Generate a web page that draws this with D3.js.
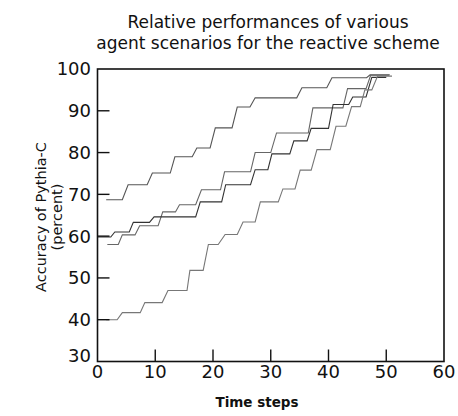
<!DOCTYPE html>
<html><head><meta charset="utf-8">
<script src="https://cdn.jsdelivr.net/npm/d3@7"></script>
<style>html,body{margin:0;padding:0;background:#fff;} svg{display:block;}</style>
</head><body>
<svg id="chart" width="458" height="416"></svg>
<script>
// ---- data ----
const titleLines = ["Relative performances of various", "agent scenarios for the reactive scheme"];
const yLabelLines = ["Accuracy of Pythia-C", "(percent)"];
const xLabel = "Time steps";
const xTicks = [0, 10, 20, 30, 40, 50, 60];
const yTicks = [30, 40, 50, 60, 70, 80, 90, 100];

const topT = [1.5,4.3,5.3,8.6,9.5,12.6,13.4,16.4,17.2,19.5,20.4,23.3,24.2,26.4,27.3,34.5,35.4,39.7,40.6,46.6,47.2,50.6];
const topV = [68.7,68.7,72.3,72.3,75.1,75.1,79.0,79.0,81.1,81.1,85.9,85.9,90.9,90.9,93.1,93.1,95.5,95.5,97.9,97.9,98.6,98.6];

const midAT = [1.7,3.6,4.3,6.5,7.3,10.5,11.3,13.5,14.2,17.0,18.0,21.3,22.0,26.5,27.3,30.0,31.0,36.5,37.3,42.5,43.3,46.5,47.3,50.5];
const midAV = [58.0,58.0,60.3,60.3,62.5,62.5,65.8,65.8,67.5,67.5,71.1,71.1,75.4,75.4,80.0,80.0,84.7,84.7,90.7,90.7,95.3,95.3,98.5,98.5];

const midBT = [0,2.3,3.0,5.5,6.2,9.0,9.8,17.0,17.8,21.5,22.2,26.5,27.3,29.5,30.2,33.3,34.0,36.3,37.0,40.0,40.8,43.5,44.2,46.5,47.5,50.0];
const midBV = [59.8,59.8,61.0,61.0,63.3,63.3,64.6,64.6,68.2,68.2,72.3,72.3,75.9,75.9,79.7,79.7,82.8,82.8,85.8,85.8,91.5,91.5,93.3,93.3,98.0,98.0];

const lowT = [1.5,3.4,4.3,7.4,8.2,11.2,12.2,15.5,16.0,18.3,19.2,20.9,22.1,24.2,25.2,27.3,28.2,31.3,32.1,34.2,35.1,37.0,38.0,40.3,41.3,43.0,44.0,45.5,46.3,47.5,48.5,51.0];
const lowV = [40.0,40.0,41.7,41.7,44.1,44.1,47.0,47.0,51.8,51.8,58.0,58.0,60.4,60.4,63.4,63.4,68.2,68.2,71.3,71.3,75.8,75.8,80.7,80.7,86.3,86.3,91.0,91.0,95.0,95.0,98.3,98.3];

const series = [
  {t: topT, v: topV, color: "#555"},
  {t: midAT, v: midAV, color: "#666"},
  {t: midBT, v: midBV, color: "#333"},
  {t: lowT, v: lowV, color: "#777"}
];

// ---- drawing ----
const svg = d3.select("#chart");
const font = "'DejaVu Sans', sans-serif";
const x = d3.scaleLinear().domain([0, 60]).range([97.5, 444]);
const y = d3.scaleLinear().domain([30, 100]).range([361.5, 69]);

// title
svg.append("g").selectAll("text").data(titleLines).join("text")
  .attr("x", 268).attr("y", (d, i) => 28 + i * 20.5)
  .attr("text-anchor", "middle").attr("font-family", font).attr("font-size", 17)
  .attr("fill", "#111").text(d => d);

// lines
const line = d3.line().x(d => x(d[0])).y(d => y(d[1]));
svg.append("g").selectAll("path").data(series).join("path")
  .attr("d", s => line(s.t.map((t, i) => [t, s.v[i]])))
  .attr("fill", "none").attr("stroke", s => s.color).attr("stroke-width", 1.1);

// frame
svg.append("rect").attr("x", x(0)).attr("y", y(100))
  .attr("width", x(60) - x(0)).attr("height", y(30) - y(100))
  .attr("fill", "none").attr("stroke", "#111").attr("stroke-width", 1.6);

// inner ticks
svg.append("g").selectAll("line").data(yTicks.filter(d => d > 30 && d < 100)).join("line")
  .attr("x1", x(0)).attr("x2", x(0) + 12).attr("y1", d => y(d)).attr("y2", d => y(d))
  .attr("stroke", "#111").attr("stroke-width", 1.4);
svg.append("g").selectAll("line").data(xTicks.filter(d => d > 0 && d < 60)).join("line")
  .attr("x1", d => x(d)).attr("x2", d => x(d)).attr("y1", y(30)).attr("y2", y(30) - 12)
  .attr("stroke", "#111").attr("stroke-width", 1.4);

// tick labels
svg.append("g").selectAll("text").data(yTicks).join("text")
  .attr("x", 91).attr("y", d => y(d) + (d === 30 ? -6 : 0)).attr("dy", "0.36em")
  .attr("text-anchor", "end").attr("font-family", font).attr("font-size", 18)
  .attr("fill", "#111").text(d => d);
svg.append("g").selectAll("text").data(xTicks).join("text")
  .attr("x", d => x(d)).attr("y", 378)
  .attr("text-anchor", "middle").attr("font-family", font).attr("font-size", 18)
  .attr("fill", "#111").text(d => d);

// axis titles
svg.append("text").attr("x", 257).attr("y", 407).attr("text-anchor", "middle")
  .attr("font-family", font).attr("font-size", 13.5).attr("font-weight", "bold")
  .attr("fill", "#111").text(xLabel);
svg.append("g").attr("transform", "translate(46,217) rotate(-90)")
  .selectAll("text").data(yLabelLines).join("text")
  .attr("x", 0).attr("y", (d, i) => i * 16)
  .attr("text-anchor", "middle").attr("font-family", font).attr("font-size", 14.5)
  .attr("fill", "#111").text(d => d);
</script>
</body></html>
